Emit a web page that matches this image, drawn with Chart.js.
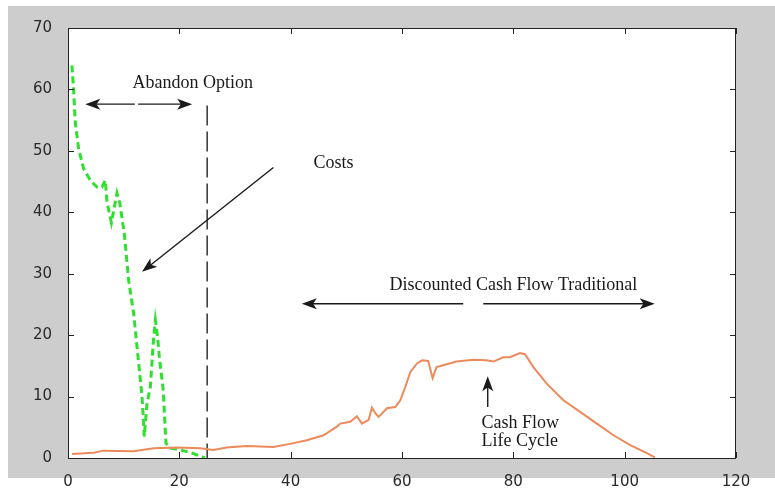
<!DOCTYPE html>
<html>
<head>
<meta charset="utf-8">
<script src="https://cdn.jsdelivr.net/npm/chart.js@4.4.1/dist/chart.umd.min.js"></script>
<style>
  html, body { margin: 0; padding: 0; background: #fff; }
  #wrap { width: 775px; height: 489px; }
</style>
</head>
<body>
<div id="wrap"><canvas id="chart"></canvas></div>
<script>
// --- data ----------------------------------------------------------------
const X_MIN = 0, X_MAX = 120, X_STEP = 20;
const Y_MIN = 0, Y_MAX = 70, Y_STEP = 10;

// green dashed "Costs" curve
const costX = [0.7, 1.0, 1.3, 1.9, 2.8, 4.0, 5.2, 6.1, 6.7, 7.0, 7.8, 8.8, 9.3, 10.1, 10.9,
  11.8, 12.7, 13.3, 13.7, 14.2, 14.8, 15.3, 15.7, 16.1, 16.4, 17.1, 17.6, 18.4, 20.2, 22.3, 24.6];
const costY = [63.9, 60.1, 54.7, 50.4, 47.1, 45.2, 44.1, 44.1, 45.2, 41.7, 38.3, 43.1, 41.5, 36.6, 28.9,
  23.5, 15.4, 10.0, 3.5, 8.9, 11.6, 18.6, 22.4, 19.7, 16.5, 11.1, 2.4, 1.6, 1.3, 0.8, 0];

// orange "Cash Flow Life Cycle" curve
const cashX = [0.7, 4.6, 6.4, 11.8, 15.4, 19.6, 23.8, 26.1, 28.5, 32.1, 36.9, 39.9, 42.9, 45.9, 48.3,
  48.9, 50.7, 51.9, 52.8, 54.0, 54.6, 55.2, 55.8, 57.3, 58.8, 59.7, 60.6, 61.5, 62.7, 63.6,
  64.7, 65.5, 66.2, 67.4, 69.8, 72.8, 75.2, 76.4, 78.2, 79.4, 81.2, 82.1, 83.6, 86, 89,
  92, 95, 98, 101, 104, 105.4];
const cashY = [0.65, 0.86, 1.2, 1.1, 1.6, 1.7, 1.6, 1.3, 1.7, 1.95, 1.8, 2.3, 2.9, 3.7, 5.1,
  5.6, 5.9, 6.8, 5.6, 6.2, 8.2, 7.3, 6.7, 8.1, 8.3, 9.4, 11.6, 14.0, 15.4, 15.9,
  15.8, 13.0, 14.8, 15.1, 15.7, 16.0, 15.9, 15.7, 16.4, 16.4, 17.1, 16.9, 14.8, 12.1, 9.4,
  7.5, 5.6, 3.7, 2.1, 0.8, 0.1];

// vertical dashed "abandon" marker
const abandonX = [25, 25];
const abandonY = [57.4, 0];

// annotation texts (data coordinates)
const labelText = ["Abandon Option", "Costs", "Discounted Cash Flow Traditional", "Cash Flow", "Life Cycle"];
const labelX = [22.4, 47.7, 80.0, 74.3, 74.3];
const labelY = [61.0, 48.0, 28.2, 5.7, 2.8];
const labelAlign = ["center", "center", "center", "left", "left"];

// arrows: from (x1,y1) to tip (x2,y2)
const arrowX1 = [12.0, 12.6, 36.9, 71.0, 74.6, 75.4];
const arrowY1 = [57.6, 57.6, 47.3, 25.1, 25.1, 8.3];
const arrowX2 = [3.1, 22.3, 13.3, 42.0, 105.4, 75.4];
const arrowY2 = [57.6, 57.6, 30.3, 25.1, 25.1, 13.3];

const toPoints = (xs, ys) => xs.map((x, i) => ({ x, y: ys[i] }));

const FIG_BG = "#cdcdcd";
const TICK_FONT = { family: "DejaVu Sans", size: 15 };
const NOTE_FONT = '18px "Liberation Serif"';

function drawArrow(ctx, x1, y1, x2, y2) {
  const ang = Math.atan2(y2 - y1, x2 - x1);
  const len = 15, half = 5.5;
  const c = Math.cos(ang), s = Math.sin(ang);
  ctx.beginPath();
  ctx.moveTo(x1, y1);
  ctx.lineTo(x2 - c * len * 0.6, y2 - s * len * 0.6);
  ctx.stroke();
  ctx.beginPath();
  ctx.moveTo(x2, y2);
  ctx.lineTo(x2 - c * len + s * half, y2 - s * len - c * half);
  ctx.lineTo(x2 - c * len * 0.75, y2 - s * len * 0.75);
  ctx.lineTo(x2 - c * len - s * half, y2 - s * len + c * half);
  ctx.closePath();
  ctx.fill();
}

const figurePlugin = {
  id: "figure",
  beforeDraw(chart) {
    const { ctx, chartArea: a } = chart;
    ctx.save();
    ctx.fillStyle = "#fff";
    ctx.fillRect(0, 0, chart.width, chart.height);
    ctx.fillStyle = FIG_BG;
    ctx.fillRect(8, 6, chart.width - 8, 472);
    ctx.fillStyle = "#fff";
    ctx.fillRect(a.left, a.top, a.right - a.left, a.bottom - a.top);
    ctx.restore();
  },
  afterDraw(chart) {
    const { ctx, chartArea: a, scales: { x, y } } = chart;
    ctx.save();
    // box
    ctx.strokeStyle = "#222";
    ctx.lineWidth = 1;
    ctx.strokeRect(a.left + 0.5, a.top + 0.5, a.right - a.left - 1, a.bottom - a.top);
    // inward ticks on all four sides
    const tl = 6;
    ctx.beginPath();
    x.ticks.forEach(t => {
      const px = Math.round(x.getPixelForValue(t.value)) + 0.5;
      ctx.moveTo(px, a.bottom); ctx.lineTo(px, a.bottom - tl);
      ctx.moveTo(px, a.top); ctx.lineTo(px, a.top + tl);
    });
    y.ticks.forEach(t => {
      const py = Math.round(y.getPixelForValue(t.value)) + 0.5;
      ctx.moveTo(a.left, py); ctx.lineTo(a.left + tl, py);
      ctx.moveTo(a.right, py); ctx.lineTo(a.right - tl, py);
    });
    ctx.stroke();

    // annotations
    ctx.fillStyle = "#1a1a1a";
    ctx.strokeStyle = "#1a1a1a";
    ctx.font = NOTE_FONT;
    ctx.textBaseline = "middle";
    labelText.forEach((txt, i) => {
      ctx.textAlign = labelAlign[i];
      ctx.fillText(txt, x.getPixelForValue(labelX[i]), y.getPixelForValue(labelY[i]));
    });
    ctx.lineWidth = 1.4;
    arrowX1.forEach((_, i) => {
      drawArrow(ctx,
        x.getPixelForValue(arrowX1[i]), y.getPixelForValue(arrowY1[i]),
        x.getPixelForValue(arrowX2[i]), y.getPixelForValue(arrowY2[i]));
    });
    ctx.restore();
  },
};

new Chart(document.getElementById("chart"), {
  type: "scatter",
  data: {
    datasets: [
      {
        label: "Cash Flow",
        data: toPoints(cashX, cashY),
        showLine: true,
        borderColor: "#ec8a5c",
        borderWidth: 2,
        pointRadius: 0,
      },
      {
        label: "Costs",
        data: toPoints(costX, costY),
        showLine: true,
        borderColor: "#30df30",
        borderWidth: 3,
        borderDash: [7, 4],
        pointRadius: 0,
      },
      {
        label: "Abandon",
        data: toPoints(abandonX, abandonY),
        showLine: true,
        borderColor: "#333",
        borderWidth: 1.5,
        borderDash: [20, 6],
        pointRadius: 0,
      },
    ],
  },
  options: {
    responsive: true,
    maintainAspectRatio: false,
    animation: false,
    layout: { padding: { left: 0, right: 39, top: 28, bottom: 0 } },
    plugins: { legend: { display: false }, tooltip: { enabled: false } },
    scales: {
      x: {
        type: "linear",
        min: X_MIN, max: X_MAX,
        grid: { display: false },
        border: { display: false },
        ticks: { stepSize: X_STEP, color: "#2a2a2a", font: TICK_FONT, padding: 7, maxRotation: 0 },
        afterFit: (s) => { s.height = 31; },
      },
      y: {
        min: Y_MIN, max: Y_MAX,
        grid: { display: false },
        border: { display: false },
        ticks: { stepSize: Y_STEP, color: "#2a2a2a", font: TICK_FONT, padding: 8 },
        afterFit: (s) => { s.width = 68; },
      },
    },
  },
  plugins: [figurePlugin],
});
</script>
</body>
</html>
